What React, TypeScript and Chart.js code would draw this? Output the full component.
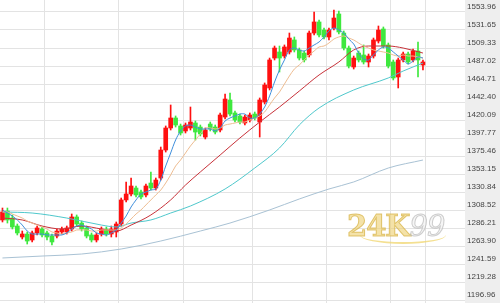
import React, { useEffect, useRef } from 'react';
import { Chart, registerables } from 'chart.js';

Chart.register(...registerables);

// Number of category slots on the x axis (candles fill the first ones)
const SLOTS = 94;

const OPEN = [
  1296.2, 1307.3, 1298.6, 1288.7, 1275.1, 1278.8, 1271.4, 1280.1, 1285.0, 1280.1,
  1276.3, 1276.3, 1281.3, 1281.3, 1285.0, 1299.9, 1292.4, 1286.3, 1277.6, 1271.4,
  1278.8, 1285.0, 1278.8, 1281.3, 1291.2, 1321.0, 1328.4, 1335.8, 1330.9, 1327.2,
  1342.0, 1335.8, 1348.2, 1382.9, 1410.2, 1422.6, 1412.7, 1406.5, 1410.2, 1416.4,
  1411.4, 1399.0, 1415.1, 1411.4, 1407.7, 1423.8, 1444.9, 1428.8, 1425.1, 1416.4,
  1420.1, 1427.5, 1417.6, 1442.4, 1459.8, 1496.9, 1504.4, 1499.4, 1504.4, 1519.3,
  1506.9, 1503.1, 1500.7, 1527.9, 1541.6, 1531.6, 1523.0, 1534.1, 1551.5, 1527.9,
  1509.3, 1485.8, 1503.1, 1500.7, 1492.0, 1499.4, 1518.0, 1532.9, 1513.1, 1492.0,
  1473.4, 1494.5, 1501.9, 1494.5, 1505.6, 1488.3,
];
const HIGH = [
  1311.0, 1311.0, 1302.4, 1291.2, 1282.5, 1281.3, 1282.5, 1288.7, 1287.5, 1282.5,
  1278.8, 1285.0, 1287.5, 1288.7, 1303.6, 1302.4, 1294.9, 1288.7, 1280.1, 1280.1,
  1287.5, 1287.5, 1288.7, 1293.7, 1323.4, 1343.3, 1348.2, 1338.3, 1333.3, 1340.8,
  1355.7, 1348.2, 1386.6, 1412.7, 1438.7, 1425.1, 1415.1, 1416.4, 1436.2, 1418.9,
  1413.9, 1410.2, 1417.6, 1413.9, 1428.8, 1452.3, 1453.6, 1431.3, 1427.5, 1426.3,
  1428.8, 1430.0, 1447.4, 1466.0, 1496.9, 1511.8, 1511.8, 1513.1, 1527.9, 1523.0,
  1509.3, 1505.6, 1530.4, 1554.0, 1544.0, 1534.1, 1534.1, 1556.4, 1555.2, 1530.4,
  1511.8, 1499.4, 1505.6, 1513.1, 1501.9, 1521.7, 1536.6, 1535.4, 1515.5, 1494.5,
  1496.9, 1504.4, 1504.4, 1508.1, 1516.8, 1494.5,
];
const LOW = [
  1293.7, 1292.4, 1285.0, 1277.6, 1272.6, 1266.4, 1268.9, 1277.6, 1275.1, 1271.4,
  1265.2, 1273.9, 1278.8, 1278.8, 1282.5, 1288.7, 1282.5, 1273.9, 1268.9, 1268.9,
  1276.3, 1276.3, 1275.1, 1275.1, 1288.7, 1318.5, 1325.9, 1324.7, 1322.2, 1324.7,
  1333.3, 1333.3, 1345.7, 1380.4, 1407.7, 1411.4, 1401.5, 1404.0, 1407.7, 1395.3,
  1400.3, 1396.6, 1406.5, 1402.8, 1405.2, 1421.3, 1425.1, 1417.6, 1415.1, 1413.9,
  1417.6, 1420.1, 1399.0, 1439.9, 1457.3, 1494.5, 1479.6, 1496.9, 1501.9, 1504.4,
  1494.5, 1492.0, 1498.2, 1525.5, 1523.0, 1520.5, 1519.3, 1531.6, 1526.7, 1506.9,
  1484.6, 1483.3, 1492.0, 1489.5, 1485.8, 1496.9, 1515.5, 1509.3, 1484.6, 1469.7,
  1459.8, 1492.0, 1489.5, 1492.0, 1473.4, 1482.1,
];
const CLOSE = [
  1306.1, 1296.2, 1287.5, 1280.1, 1278.8, 1270.1, 1280.1, 1286.3, 1277.6, 1275.1,
  1268.9, 1282.5, 1285.0, 1286.3, 1299.9, 1291.2, 1285.0, 1276.3, 1271.4, 1277.6,
  1285.0, 1278.8, 1285.0, 1291.2, 1321.0, 1328.4, 1338.3, 1327.2, 1324.7, 1338.3,
  1335.8, 1345.7, 1382.9, 1410.2, 1422.6, 1413.9, 1404.0, 1413.9, 1417.6, 1405.2,
  1402.8, 1407.7, 1409.0, 1405.2, 1426.3, 1446.1, 1427.5, 1420.1, 1417.6, 1423.8,
  1426.3, 1422.6, 1444.9, 1463.5, 1494.5, 1509.3, 1496.9, 1510.6, 1521.7, 1506.9,
  1496.9, 1494.5, 1527.9, 1541.6, 1525.5, 1523.0, 1531.6, 1546.5, 1529.2, 1509.3,
  1487.0, 1496.9, 1494.5, 1492.0, 1499.4, 1519.3, 1531.6, 1511.8, 1487.0, 1472.2,
  1494.5, 1501.9, 1492.0, 1505.6, 1494.5, 1492.0,
];

// Short moving averages (one value per candle)
const MA5 = [
  1308.6, 1304.8, 1301.1, 1296.2, 1289.9, 1282.5, 1278.8, 1278.8, 1278.8, 1277.6,
  1277.6, 1277.6, 1277.6, 1280.1, 1285.0, 1288.7, 1289.9, 1287.5, 1285.0, 1280.1,
  1278.8, 1277.6, 1280.1, 1283.8, 1292.4, 1301.1, 1312.3, 1321.0, 1328.4, 1330.9,
  1333.3, 1334.6, 1345.7, 1363.1, 1379.2, 1395.3, 1406.5, 1412.7, 1413.9, 1411.4,
  1409.0, 1409.0, 1409.0, 1406.5, 1410.2, 1418.9, 1422.6, 1425.1, 1427.5, 1427.5,
  1422.6, 1422.6, 1427.5, 1436.2, 1449.9, 1467.2, 1482.1, 1494.5, 1506.9, 1509.3,
  1506.9, 1505.6, 1509.3, 1513.1, 1516.8, 1523.0, 1530.4, 1534.1, 1531.6, 1527.9,
  1520.5, 1514.3, 1503.1, 1495.7, 1494.5, 1500.7, 1506.9, 1510.6, 1509.3, 1504.4,
  1499.4, 1494.5, 1489.5, 1493.2, 1498.2, 1496.9,
];
const MA10 = [
  1306.1, 1306.1, 1303.6, 1301.1, 1298.6, 1294.9, 1292.4, 1289.9, 1287.5, 1285.0,
  1281.3, 1280.1, 1278.8, 1280.1, 1281.3, 1283.8, 1283.8, 1283.8, 1282.5, 1282.5,
  1283.8, 1283.8, 1283.8, 1283.8, 1286.3, 1291.2, 1297.4, 1303.6, 1308.6, 1314.8,
  1321.0, 1327.2, 1333.3, 1342.0, 1352.0, 1363.1, 1370.5, 1379.2, 1387.9, 1395.3,
  1402.8, 1410.2, 1410.2, 1409.0, 1410.2, 1413.9, 1415.1, 1416.4, 1417.6, 1417.6,
  1420.1, 1422.6, 1425.1, 1430.0, 1438.7, 1447.4, 1454.8, 1464.7, 1474.6, 1483.3,
  1488.3, 1494.5, 1500.7, 1505.6, 1510.6, 1511.8, 1515.5, 1520.5, 1523.0, 1524.2,
  1521.7, 1519.3, 1515.5, 1511.8, 1509.3, 1506.9, 1505.6, 1504.4, 1503.1, 1500.7,
  1499.4, 1500.7, 1499.4, 1499.4, 1498.2, 1496.9,
];

// Longer moving averages, read at a few candle positions
const MA20_AT = [0, 4, 8, 12, 16, 20, 23, 26, 30, 34, 37, 40, 44, 48, 52, 56, 60, 64, 68, 71, 74, 78, 81, 85];
const MA20_VAL = [
  1298.6, 1296.2, 1288.7, 1285.0, 1288.7, 1285.0, 1282.5, 1289.9, 1302.4, 1321.0,
  1339.5, 1355.7, 1376.7, 1397.8, 1417.6, 1436.2, 1456.0, 1475.9, 1492.0, 1506.9,
  1511.8, 1511.8, 1509.3, 1503.1,
];
const MA60_AT = [0, 6, 13, 20, 23, 26, 30, 34, 38, 45, 51, 56, 60, 64, 71, 78, 81, 85];
const MA60_VAL = [
  1306.1, 1304.8, 1298.6, 1289.9, 1287.5, 1292.4, 1296.2, 1304.8, 1313.5, 1334.6,
  1360.6, 1385.4, 1413.9, 1435.0, 1457.3, 1472.2, 1480.8, 1490.7,
];
const MA120_AT = [0, 8, 16, 24, 32, 40, 46, 54, 60, 66, 71, 78, 85];
const MA120_VAL = [
  1249.1, 1251.5, 1254.0, 1260.2, 1270.1, 1282.5, 1292.4, 1308.6, 1322.2, 1334.6,
  1343.3, 1360.6, 1370.5,
];

const Y_TICK_LABELS = [
  '1553.96', '1531.65', '1509.33', '1487.02', '1464.71', '1442.40', '1420.09', '1397.77',
  '1375.46', '1353.15', '1330.84', '1308.52', '1286.21', '1263.90', '1241.59', '1219.28', '1196.96',
];
const Y_MIN = 1193.29;
const Y_MAX = 1568.83;

// Slots whose left edge carries a vertical grid line
const VGRID_AT = [9, 24, 37, 51, 66, 79, 86];

const UP_COLOR = '#ff1010';
const DOWN_COLOR = '#3ee83e';
const GRID = '#e3e3e3';

function sparse(at: number[], vals: number[]) {
  const arr: (number | null)[] = Array.from({ length: SLOTS }, () => null);
  at.forEach((idx, k) => {
    arr[idx] = vals[k];
  });
  return arr;
}

const bgPlugin = {
  id: 'bgPlugin',
  beforeDraw(chart: any) {
    const { ctx, chartArea, width, height } = chart;
    ctx.save();
    ctx.fillStyle = '#ffffff';
    ctx.fillRect(0, 0, width, height);
    ctx.fillStyle = '#eeeeee';
    ctx.fillRect(chartArea.right, 0, width - chartArea.right, height);
    ctx.restore();
  },
};

export default function App() {
  const ref = useRef<HTMLCanvasElement | null>(null);

  useEffect(() => {
    document.body.style.margin = '0';
    const canvas = ref.current;
    if (!canvas) return;
    const labels = Array.from({ length: SLOTS }, (_, i) => String(i));
    const colors = OPEN.map((o, i) => (CLOSE[i] >= o ? UP_COLOR : DOWN_COLOR));

    const lineBase = {
      type: 'line' as const,
      pointRadius: 0,
      borderWidth: 1,
      fill: false,
      spanGaps: true,
      order: 0,
    };

    const chart = new Chart(canvas, {
      type: 'bar',
      data: {
        labels,
        datasets: [
          { ...lineBase, label: 'MA5', data: MA5, borderColor: '#3f8fdc', tension: 0.3 } as any,
          { ...lineBase, label: 'MA10', data: MA10, borderColor: '#eebd92', tension: 0.3 } as any,
          {
            ...lineBase,
            label: 'MA20',
            data: sparse(MA20_AT, MA20_VAL),
            borderColor: '#c8323a',
            cubicInterpolationMode: 'monotone',
          } as any,
          {
            ...lineBase,
            label: 'MA60',
            data: sparse(MA60_AT, MA60_VAL),
            borderColor: '#4fc8cc',
            cubicInterpolationMode: 'monotone',
          } as any,
          {
            ...lineBase,
            label: 'MA120',
            data: sparse(MA120_AT, MA120_VAL),
            borderColor: '#a9c2d4',
            cubicInterpolationMode: 'monotone',
          } as any,
          {
            type: 'bar',
            label: 'body',
            data: OPEN.map((o, i) => [o, CLOSE[i]]),
            backgroundColor: colors,
            barThickness: 4,
            minBarLength: 1,
            grouped: false,
            borderWidth: 0,
            order: 1,
          } as any,
          {
            type: 'bar',
            label: 'wick',
            data: LOW.map((l, i) => [l, HIGH[i]]),
            backgroundColor: colors,
            barThickness: 1,
            grouped: false,
            borderWidth: 0,
            order: 2,
          } as any,
        ],
      },
      options: {
        animation: false,
        responsive: false,
        maintainAspectRatio: false,
        layout: { padding: 0 },
        plugins: {
          legend: { display: false },
          tooltip: { enabled: false },
        },
        scales: {
          x: {
            type: 'category',
            offset: true,
            grid: {
              offset: true,
              drawTicks: false,
              color: (c: any) => (VGRID_AT.includes(c.index) ? GRID : 'rgba(0,0,0,0)'),
            },
            ticks: { display: false },
            border: { display: false },
            afterFit: (s: any) => {
              s.height = 0;
              s.paddingLeft = 0;
              s.paddingRight = 0;
            },
          },
          y: {
            position: 'right',
            min: Y_MIN,
            max: Y_MAX,
            afterBuildTicks: (s: any) => {
              s.ticks = Y_TICK_LABELS.map((t) => ({ value: parseFloat(t) }));
            },
            ticks: {
              callback: (_v: any, i: number) => Y_TICK_LABELS[i],
              font: { family: '"Liberation Sans", Arial, sans-serif', size: 8 },
              color: '#444444',
              padding: 2,
              labelOffset: -5,
            },
            grid: { color: GRID, drawTicks: false },
            border: { display: false },
            afterFit: (s: any) => {
              s.width = 35;
              s.paddingTop = 0;
              s.paddingBottom = 0;
            },
          },
        },
      } as any,
      plugins: [bgPlugin],
    });
    return () => chart.destroy();
  }, []);

  return (
    <div style={{ position: 'relative', width: 500, height: 303, overflow: 'hidden' }}>
      <canvas ref={ref} width={500} height={303} style={{ display: 'block' }} />
      <div
        style={{
          position: 'absolute',
          left: 360,
          top: 226,
          width: 86,
          height: 16,
          borderBottom: '2px solid rgba(240,214,110,0.75)',
          borderRadius: '0 0 50% 50%',
          pointerEvents: 'none',
        }}
      />
      <div
        style={{
          position: 'absolute',
          left: 347,
          top: 208,
          fontFamily: '"DejaVu Serif", serif',
          fontSize: 29,
          fontWeight: 'bold',
          letterSpacing: -1,
          lineHeight: '36px',
          whiteSpace: 'nowrap',
          pointerEvents: 'none',
        }}
      >
        <span style={{ color: 'rgba(236,206,110,0.6)', WebkitTextStroke: '1px rgba(214,176,64,0.7)' }}>24K</span>
        <span
          style={{
            color: 'rgba(240,240,240,0.6)',
            WebkitTextStroke: '1px rgba(175,175,175,0.6)',
            fontStyle: 'italic',
            fontWeight: 'normal',
          }}
        >
          99
        </span>
      </div>
    </div>
  );
}
